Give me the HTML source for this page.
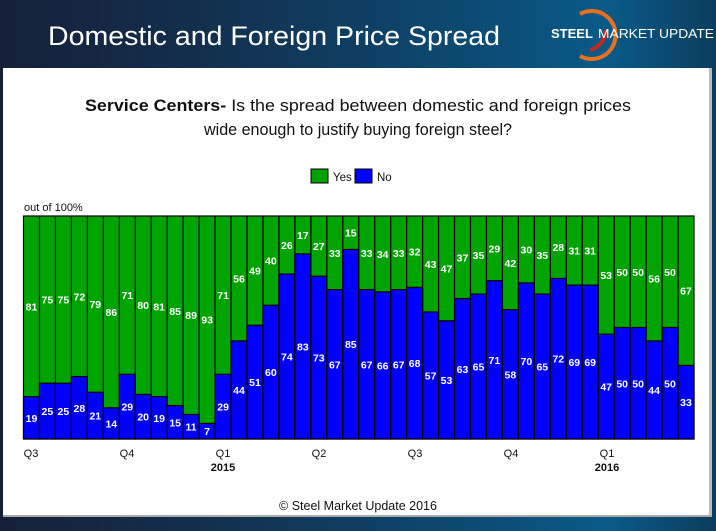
<!DOCTYPE html>
<html><head><meta charset="utf-8"><style>
html,body{margin:0;padding:0;}
body{width:716px;height:531px;overflow:hidden;background:linear-gradient(90deg,#142038 0%,#13304f 30%,#0c4a72 65%,#0a5a88 85%,#0c3d5e 100%);font-family:"Liberation Sans",sans-serif;}
</style></head><body>
<svg width="716" height="531" xmlns="http://www.w3.org/2000/svg" style="position:absolute;left:0;top:0" font-family="Liberation Sans, sans-serif">
<text x="48" y="45" fill="#fff" font-size="27" textLength="452" lengthAdjust="spacingAndGlyphs">Domestic and Foreign Price Spread</text>
<path d="M580 14 A24 24 0 1 1 580 56" fill="none" stroke="#e8701f" stroke-width="4"/>
<path d="M590 50 A22 22 0 0 0 606 30" fill="none" stroke="#c22a1f" stroke-width="4"/>
<text x="551" y="38" fill="#fff" font-size="13" font-weight="bold">STEEL</text>
<text x="598" y="38" fill="#fff" font-size="13" textLength="116" lengthAdjust="spacingAndGlyphs">MARKET UPDATE</text>
<rect x="3" y="68" width="709" height="449" fill="#fff"/>
<rect x="709" y="68" width="3" height="449" fill="#bbb"/>
<rect x="3" y="515" width="709" height="2" fill="#aaa"/>
<text x="358" y="111" text-anchor="middle" font-size="16.5" fill="#111" textLength="546" lengthAdjust="spacingAndGlyphs"><tspan font-weight="bold">Service Centers-</tspan> Is the spread between domestic and foreign prices</text>
<text x="358" y="135" text-anchor="middle" font-size="16.5" fill="#111" textLength="308" lengthAdjust="spacingAndGlyphs">wide enough to justify buying foreign steel?</text>
<rect x="311" y="169" width="17" height="14" fill="#00a000" stroke="#000"/>
<text x="333" y="181" font-size="11.5" fill="#111">Yes</text>
<rect x="355" y="169" width="17" height="14" fill="#0000ff" stroke="#000"/>
<text x="377" y="181" font-size="11.5" fill="#111">No</text>
<text x="24" y="211" font-size="11" fill="#111">out of 100%</text>

<rect x="23.5" y="216" width="670.5" height="223" fill="#00a400"/>
<g transform="translate(0,439) scale(1,-1)" fill="#0000ff" stroke="#000" stroke-width="1.2">
<rect x="23.5" y="0" width="15.96" height="42.37"/>
<rect x="39.46" y="0" width="15.96" height="55.75"/>
<rect x="55.43" y="0" width="15.96" height="55.75"/>
<rect x="71.39" y="0" width="15.96" height="62.44"/>
<rect x="87.36" y="0" width="15.96" height="46.83"/>
<rect x="103.32" y="0" width="15.96" height="31.22"/>
<rect x="119.29" y="0" width="15.96" height="64.67"/>
<rect x="135.25" y="0" width="15.96" height="44.6"/>
<rect x="151.21" y="0" width="15.96" height="42.37"/>
<rect x="167.18" y="0" width="15.96" height="33.45"/>
<rect x="183.14" y="0" width="15.96" height="24.53"/>
<rect x="199.11" y="0" width="15.96" height="15.61"/>
<rect x="215.07" y="0" width="15.96" height="64.67"/>
<rect x="231.04" y="0" width="15.96" height="98.12"/>
<rect x="247.0" y="0" width="15.96" height="113.73"/>
<rect x="262.96" y="0" width="15.96" height="133.8"/>
<rect x="278.93" y="0" width="15.96" height="165.02"/>
<rect x="294.89" y="0" width="15.96" height="185.09"/>
<rect x="310.86" y="0" width="15.96" height="162.79"/>
<rect x="326.82" y="0" width="15.96" height="149.41"/>
<rect x="342.79" y="0" width="15.96" height="189.55"/>
<rect x="358.75" y="0" width="15.96" height="149.41"/>
<rect x="374.71" y="0" width="15.96" height="147.18"/>
<rect x="390.68" y="0" width="15.96" height="149.41"/>
<rect x="406.64" y="0" width="15.96" height="151.64"/>
<rect x="422.61" y="0" width="15.96" height="127.11"/>
<rect x="438.57" y="0" width="15.96" height="118.19"/>
<rect x="454.54" y="0" width="15.96" height="140.49"/>
<rect x="470.5" y="0" width="15.96" height="144.95"/>
<rect x="486.46" y="0" width="15.96" height="158.33"/>
<rect x="502.43" y="0" width="15.96" height="129.34"/>
<rect x="518.39" y="0" width="15.96" height="156.1"/>
<rect x="534.36" y="0" width="15.96" height="144.95"/>
<rect x="550.32" y="0" width="15.96" height="160.56"/>
<rect x="566.29" y="0" width="15.96" height="153.87"/>
<rect x="582.25" y="0" width="15.96" height="153.87"/>
<rect x="598.21" y="0" width="15.96" height="104.81"/>
<rect x="614.18" y="0" width="15.96" height="111.5"/>
<rect x="630.14" y="0" width="15.96" height="111.5"/>
<rect x="646.11" y="0" width="15.96" height="98.12"/>
<rect x="662.07" y="0" width="15.96" height="111.5"/>
<rect x="678.04" y="0" width="15.96" height="73.59"/>
</g>
<g stroke="#000" stroke-width="1.2">
<path d="M39.46 216V439M55.43 216V439M71.39 216V439M87.36 216V439M103.32 216V439M119.29 216V439M135.25 216V439M151.21 216V439M167.18 216V439M183.14 216V439M199.11 216V439M215.07 216V439M231.04 216V439M247 216V439M262.96 216V439M278.93 216V439M294.89 216V439M310.86 216V439M326.82 216V439M342.79 216V439M358.75 216V439M374.71 216V439M390.68 216V439M406.64 216V439M422.61 216V439M438.57 216V439M454.54 216V439M470.5 216V439M486.46 216V439M502.43 216V439M518.39 216V439M534.36 216V439M550.32 216V439M566.29 216V439M582.25 216V439M598.21 216V439M614.18 216V439M630.14 216V439M646.11 216V439M662.07 216V439M678.04 216V439"/>
<rect x="23.5" y="216" width="670.5" height="223" fill="none"/>
</g>
<g font-size="10.5" font-weight="bold" fill="#fff" text-anchor="middle">
<text x="31.5" y="310.3">81</text><text x="31.5" y="421.8">19</text>
<text x="47.4" y="303.6">75</text><text x="47.4" y="415.1">25</text>
<text x="63.4" y="303.6">75</text><text x="63.4" y="415.1">25</text>
<text x="79.4" y="300.3">72</text><text x="79.4" y="411.8">28</text>
<text x="95.3" y="308.1">79</text><text x="95.3" y="419.6">21</text>
<text x="111.3" y="315.9">86</text><text x="111.3" y="427.4">14</text>
<text x="127.3" y="299.2">71</text><text x="127.3" y="410.7">29</text>
<text x="143.2" y="309.2">80</text><text x="143.2" y="420.7">20</text>
<text x="159.2" y="310.3">81</text><text x="159.2" y="421.8">19</text>
<text x="175.2" y="314.8">85</text><text x="175.2" y="426.3">15</text>
<text x="191.1" y="319.2">89</text><text x="191.1" y="430.7">11</text>
<text x="207.1" y="323.7">93</text><text x="207.1" y="435.2">7</text>
<text x="223.1" y="299.2">71</text><text x="223.1" y="410.7">29</text>
<text x="239.0" y="282.4">56</text><text x="239.0" y="393.9">44</text>
<text x="255.0" y="274.6">49</text><text x="255.0" y="386.1">51</text>
<text x="270.9" y="264.6">40</text><text x="270.9" y="376.1">60</text>
<text x="286.9" y="249.0">26</text><text x="286.9" y="360.5">74</text>
<text x="302.9" y="239.0">17</text><text x="302.9" y="350.5">83</text>
<text x="318.8" y="250.1">27</text><text x="318.8" y="361.6">73</text>
<text x="334.8" y="256.8">33</text><text x="334.8" y="368.3">67</text>
<text x="350.8" y="236.7">15</text><text x="350.8" y="348.2">85</text>
<text x="366.7" y="256.8">33</text><text x="366.7" y="368.3">67</text>
<text x="382.7" y="257.9">34</text><text x="382.7" y="369.4">66</text>
<text x="398.7" y="256.8">33</text><text x="398.7" y="368.3">67</text>
<text x="414.6" y="255.7">32</text><text x="414.6" y="367.2">68</text>
<text x="430.6" y="267.9">43</text><text x="430.6" y="379.4">57</text>
<text x="446.5" y="272.4">47</text><text x="446.5" y="383.9">53</text>
<text x="462.5" y="261.3">37</text><text x="462.5" y="372.8">63</text>
<text x="478.5" y="259.0">35</text><text x="478.5" y="370.5">65</text>
<text x="494.4" y="252.3">29</text><text x="494.4" y="363.8">71</text>
<text x="510.4" y="266.8">42</text><text x="510.4" y="378.3">58</text>
<text x="526.4" y="253.5">30</text><text x="526.4" y="365.0">70</text>
<text x="542.3" y="259.0">35</text><text x="542.3" y="370.5">65</text>
<text x="558.3" y="251.2">28</text><text x="558.3" y="362.7">72</text>
<text x="574.3" y="254.6">31</text><text x="574.3" y="366.1">69</text>
<text x="590.2" y="254.6">31</text><text x="590.2" y="366.1">69</text>
<text x="606.2" y="279.1">53</text><text x="606.2" y="390.6">47</text>
<text x="622.2" y="275.8">50</text><text x="622.2" y="387.3">50</text>
<text x="638.1" y="275.8">50</text><text x="638.1" y="387.3">50</text>
<text x="654.1" y="282.4">56</text><text x="654.1" y="393.9">44</text>
<text x="670.0" y="275.8">50</text><text x="670.0" y="387.3">50</text>
<text x="686.0" y="294.7">67</text><text x="686.0" y="406.2">33</text>
</g>
<g font-size="11" fill="#111" text-anchor="middle">
<text x="31" y="457">Q3</text><text x="127" y="457">Q4</text><text x="223" y="457">Q1</text><text x="223" y="471" font-weight="bold">2015</text>
<text x="319" y="457">Q2</text><text x="415" y="457">Q3</text><text x="511" y="457">Q4</text><text x="607" y="457">Q1</text><text x="607" y="471" font-weight="bold">2016</text>
</g>
<text x="358" y="510" text-anchor="middle" font-size="12.5" fill="#111">© Steel Market Update 2016</text>
</svg>
</body></html>
